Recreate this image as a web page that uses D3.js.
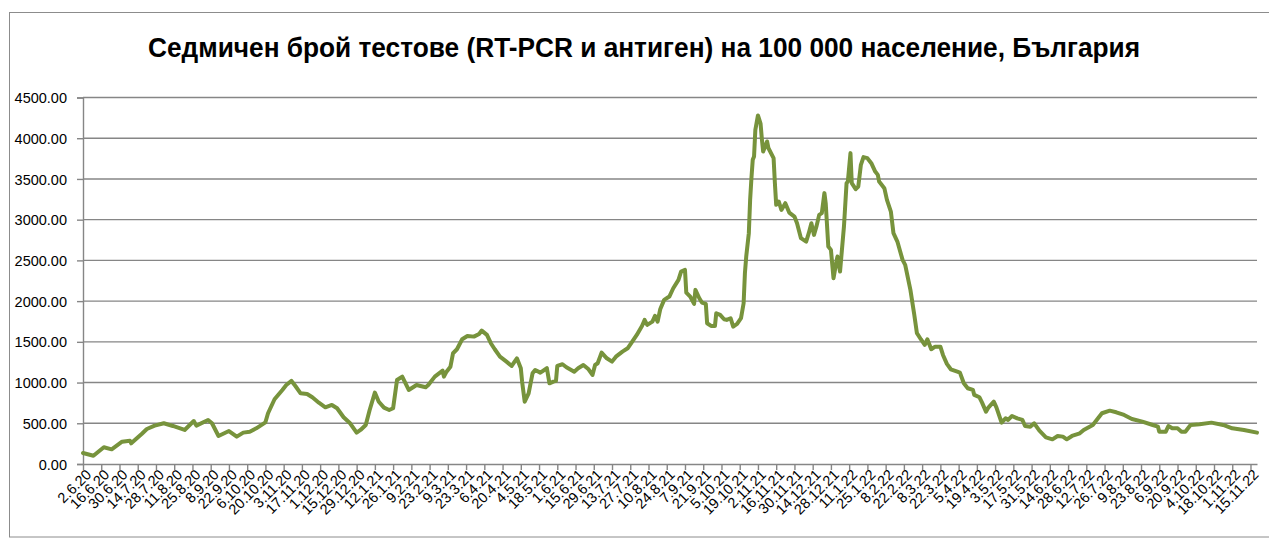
<!DOCTYPE html>
<html><head><meta charset="utf-8">
<script src="https://cdn.jsdelivr.net/npm/d3@7"></script>
<style>
html,body{margin:0;padding:0;background:#fff;}
svg{display:block;}
</style></head>
<body>
<svg id="chart" width="1269" height="539"></svg>
<script>
const titleText = "Седмичен брой тестове (RT-PCR и антиген) на 100 000 население, България";

const tickLabels = ["2.6.20","16.6.20","30.6.20","14.7.20","28.7.20","11.8.20","25.8.20","8.9.20","22.9.20","6.10.20","20.10.20","3.11.20","17.11.20","1.12.20","15.12.20","29.12.20","12.1.21","26.1.21","9.2.21","23.2.21","9.3.21","23.3.21","6.4.21","20.4.21","4.5.21","18.5.21","1.6.21","15.6.21","29.6.21","13.7.21","27.7.21","10.8.21","24.8.21","7.9.21","21.9.21","5.10.21","19.10.21","2.11.21","16.11.21","30.11.21","14.12.21","28.12.21","11.1.22","25.1.22","8.2.22","22.2.22","8.3.22","22.3.22","5.4.22","19.4.22","3.5.22","17.5.22","31.5.22","14.6.22","28.6.22","12.7.22","26.7.22","9.8.22","23.8.22","6.9.22","20.9.22","4.10.22","18.10.22","1.11.22","15.11.22"];

const yTicks = [0,500,1000,1500,2000,2500,3000,3500,4000,4500];

const dates = ["2.6.20","10.6.20","18.6.20","24.6.20","2.7.20","8.7.20","9.7.20","17.7.20","21.7.20","27.7.20","3.8.20","10.8.20","19.8.20","26.8.20","28.8.20","6.9.20","9.9.20","14.9.20","22.9.20","28.9.20","3.10.20","8.10.20","13.10.20","20.10.20","22.10.20","27.10.20","2.11.20","5.11.20","9.11.20","12.11.20","16.11.20","21.11.20","25.11.20","30.11.20","5.12.20","10.12.20","14.12.20","19.12.20","24.12.20","29.12.20","1.1.21","5.1.21","8.1.21","12.1.21","15.1.21","19.1.21","23.1.21","26.1.21","29.1.21","2.2.21","7.2.21","13.2.21","16.2.21","20.2.21","22.2.21","27.2.21","5.3.21","6.3.21","8.3.21","11.3.21","13.3.21","16.3.21","20.3.21","24.3.21","29.3.21","2.4.21","4.4.21","8.4.21","11.4.21","14.4.21","18.4.21","23.4.21","27.4.21","1.5.21","4.5.21","5.5.21","7.5.21","10.5.21","13.5.21","15.5.21","19.5.21","24.5.21","26.5.21","29.5.21","31.5.21","1.6.21","5.6.21","8.6.21","14.6.21","17.6.21","21.6.21","25.6.21","28.6.21","30.6.21","2.7.21","5.7.21","9.7.21","13.7.21","16.7.21","21.7.21","25.7.21","28.7.21","1.8.21","5.8.21","7.8.21","9.8.21","13.8.21","15.8.21","17.8.21","19.8.21","22.8.21","26.8.21","29.8.21","2.9.21","4.9.21","7.9.21","8.9.21","11.9.21","14.9.21","15.9.21","18.9.21","20.9.21","23.9.21","24.9.21","27.9.21","30.9.21","1.10.21","4.10.21","7.10.21","9.10.21","12.10.21","14.10.21","17.10.21","20.10.21","22.10.21","23.10.21","24.10.21","26.10.21","27.10.21","28.10.21","29.10.21","30.10.21","31.10.21","2.11.21","4.11.21","5.11.21","6.11.21","9.11.21","10.11.21","14.11.21","15.11.21","16.11.21","18.11.21","20.11.21","23.11.21","26.11.21","30.11.21","2.12.21","5.12.21","9.12.21","11.12.21","13.12.21","15.12.21","17.12.21","19.12.21","21.12.21","23.12.21","24.12.21","26.12.21","28.12.21","30.12.21","1.1.22","2.1.22","4.1.22","7.1.22","9.1.22","10.1.22","12.1.22","13.1.22","16.1.22","18.1.22","20.1.22","22.1.22","25.1.22","28.1.22","31.1.22","2.2.22","3.2.22","7.2.22","9.2.22","12.2.22","14.2.22","17.2.22","21.2.22","23.2.22","27.2.22","2.3.22","4.3.22","7.3.22","10.3.22","12.3.22","15.3.22","18.3.22","22.3.22","24.3.22","27.3.22","30.3.22","4.4.22","6.4.22","9.4.22","12.4.22","16.4.22","17.4.22","21.4.22","23.4.22","26.4.22","28.4.22","2.5.22","4.5.22","8.5.22","11.5.22","13.5.22","16.5.22","20.5.22","24.5.22","26.5.22","30.5.22","2.6.22","6.6.22","11.6.22","16.6.22","20.6.22","24.6.22","27.6.22","1.7.22","7.7.22","10.7.22","17.7.22","21.7.22","24.7.22","30.7.22","4.8.22","10.8.22","16.8.22","24.8.22","1.9.22","5.9.22","6.9.22","11.9.22","13.9.22","16.9.22","20.9.22","23.9.22","26.9.22","30.9.22","7.10.22","16.10.22","25.10.22","1.11.22","10.11.22","20.11.22"];

const values = [135,102,205,180,274,286,254,369,430,471,500,467,418,528,471,541,500,344,405,336,385,397,438,512,623,795,909,970,1020,958,868,860,819,753,696,725,684,574,500,385,418,479,663,876,765,692,663,684,1032,1073,909,970,958,942,970,1073,1146,1073,1134,1195,1360,1409,1532,1572,1564,1597,1638,1585,1483,1409,1318,1257,1204,1298,1176,1011,765,868,1114,1155,1122,1176,991,1011,1020,1204,1225,1188,1134,1176,1216,1163,1093,1216,1237,1368,1298,1257,1318,1380,1421,1491,1585,1695,1769,1708,1748,1818,1748,1900,2015,2056,2158,2260,2363,2383,2105,2056,1966,2138,2035,1982,1966,1728,1695,1695,1851,1830,1777,1769,1790,1687,1720,1790,1974,2343,2547,2834,3243,3510,3735,3775,4103,4280,4180,3990,3837,3960,3880,3755,3448,3182,3222,3120,3202,3087,3038,2957,2773,2731,2834,2957,2813,2924,3059,3080,3326,3202,2670,2629,2281,2466,2547,2363,2916,3448,3468,3817,3448,3374,3407,3673,3768,3755,3694,3591,3550,3468,3387,3243,3100,2834,2731,2506,2445,2138,1830,1606,1532,1462,1532,1409,1441,1441,1339,1229,1163,1134,1122,991,930,909,848,819,753,643,696,765,696,508,561,541,590,561,541,467,458,500,409,328,303,344,336,303,344,377,418,479,561,623,655,635,602,553,520,479,458,397,397,467,438,438,397,397,479,487,508,479,438,418,385];

const parse = d3.timeParse("%d.%m.%y");
const series = dates.map((d, i) => ({date: parse(d), value: values[i]}));
const tickDates = tickLabels.map(parse);

const svg = d3.select("#chart");
const gridColor = "#868686";

// outer frame
svg.append("rect").attr("x", 9.5).attr("y", 12.5).attr("width", 1300).attr("height", 524.5)
  .attr("fill", "none").attr("stroke", "#8c8c8c").attr("stroke-width", 1);

const x = d3.scaleTime().domain([parse("2.6.20"), parse("20.11.22")]).range([83, 1257]);
const y = d3.scaleLinear().domain([0, 4500]).range([464, 97.5]);

// gridlines
svg.append("g").selectAll("line").data(yTicks.filter(t => t > 0)).join("line")
  .attr("x1", 83).attr("x2", 1257)
  .attr("y1", d => y(d)).attr("y2", d => y(d))
  .attr("stroke", gridColor).attr("stroke-width", 1.4);

// y axis
const yAxis = svg.append("g").attr("transform", "translate(83,0)")
  .call(d3.axisLeft(y).tickValues(yTicks).tickFormat(d3.format(".2f")).tickSize(6).tickPadding(10));
yAxis.select(".domain").attr("stroke", gridColor).attr("stroke-width", 1.4);
yAxis.selectAll(".tick line").attr("stroke", gridColor).attr("stroke-width", 1.4);
yAxis.selectAll("text").attr("font-family", "'Liberation Sans', Arial, sans-serif")
  .attr("font-size", 14.5).attr("fill", "#000").attr("dy", "0.35em");

// x axis
const xAxis = svg.append("g").attr("transform", "translate(0,464)")
  .call(d3.axisBottom(x).tickValues(tickDates).tickFormat((d, i) => tickLabels[i]).tickSize(6).tickSizeOuter(0));
xAxis.select(".domain").attr("stroke", gridColor).attr("stroke-width", 1.4);
xAxis.selectAll(".tick line").attr("stroke", gridColor).attr("stroke-width", 1.4);
xAxis.selectAll("text")
  .attr("font-family", "'Liberation Sans', Arial, sans-serif")
  .attr("font-size", 14.5).attr("fill", "#000")
  .attr("text-anchor", "end")
  .attr("transform", "translate(5,8) rotate(-45)")
  .attr("x", 0).attr("y", 0).attr("dy", "0.35em");

// line
const line = d3.line().x(d => x(d.date)).y(d => y(d.value));
svg.append("path").datum(series).attr("d", line)
  .attr("fill", "none").attr("stroke", "#77933C").attr("stroke-width", 4)
  .attr("stroke-linejoin", "round").attr("stroke-linecap", "round");

// title
const title = svg.append("text").attr("x", 644).attr("y", 57).attr("text-anchor", "middle")
  .attr("font-family", "'Liberation Sans Narrow', 'Liberation Sans', Arial, sans-serif")
  .attr("font-weight", "bold").attr("font-size", 27).attr("fill", "#000").text(titleText);
const tl = title.node().getComputedTextLength();
if (Math.abs(tl - 992) > 4) title.attr("textLength", 992).attr("lengthAdjust", "spacingAndGlyphs");
</script>
</body></html>
